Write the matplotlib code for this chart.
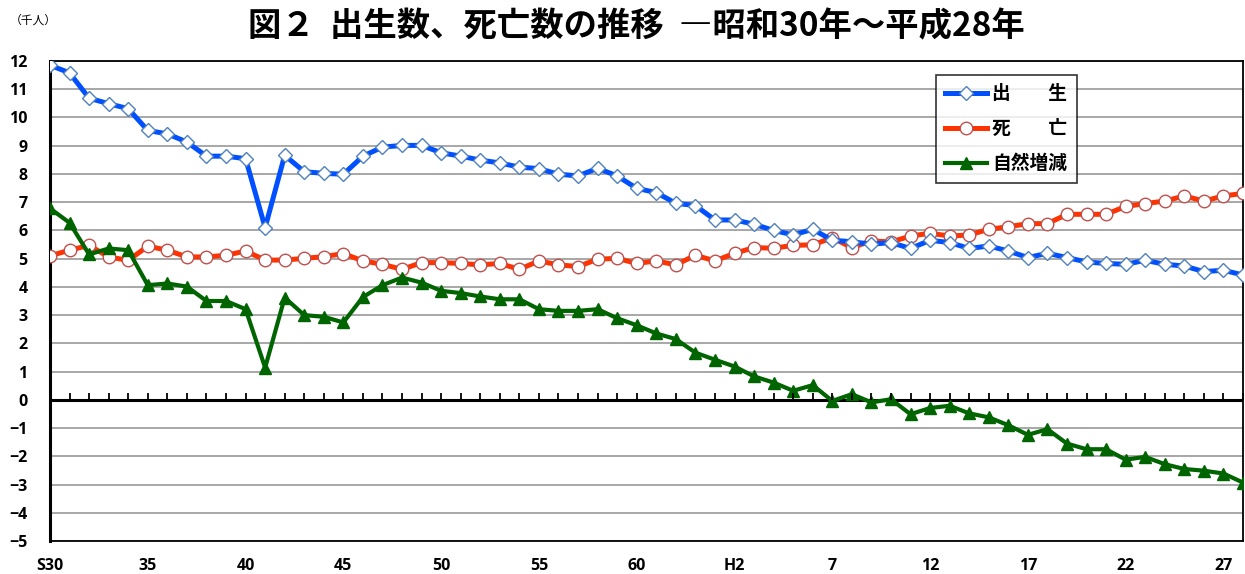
import numpy as np
import matplotlib
matplotlib.use('Agg')
import matplotlib.pyplot as plt

plt.rcParams['font.family'] = ['Noto Sans CJK JP', 'DejaVu Sans']

# 昭和30年(S30)～平成28年(H28), 単位:千人
years = list(range(62))
tick_pos = list(range(0, 62, 5))
tick_labels = ['S30', '35', '40', '45', '50', '55', '60', 'H2', '7', '12', '17', '22', '27']

births = [11.85, 11.58, 10.68, 10.49, 10.31, 9.54, 9.42, 9.13, 8.63, 8.63,
          8.54, 6.10, 8.66, 8.08, 8.02, 7.99, 8.63, 8.95, 9.01, 9.01,
          8.75, 8.63, 8.49, 8.39, 8.24, 8.19, 7.99, 7.93, 8.20, 7.93,
          7.49, 7.34, 6.96, 6.88, 6.37, 6.37, 6.22, 6.00, 5.84, 6.04,
          5.65, 5.60, 5.51, 5.57, 5.36, 5.65, 5.57, 5.36, 5.45, 5.27,
          5.04, 5.19, 5.04, 4.88, 4.83, 4.80, 4.94, 4.80, 4.74, 4.54,
          4.59, 4.42]
deaths = [5.10, 5.30, 5.47, 5.06, 4.94, 5.44, 5.30, 5.06, 5.06, 5.12,
          5.27, 4.95, 4.95, 5.01, 5.07, 5.18, 4.92, 4.80, 4.62, 4.86,
          4.86, 4.83, 4.78, 4.83, 4.62, 4.92, 4.78, 4.72, 4.98, 5.01,
          4.83, 4.92, 4.78, 5.12, 4.92, 5.19, 5.39, 5.37, 5.47, 5.49,
          5.74, 5.39, 5.63, 5.59, 5.80, 5.90, 5.80, 5.84, 6.04, 6.13,
          6.24, 6.24, 6.57, 6.57, 6.57, 6.85, 6.95, 7.04, 7.22, 7.04,
          7.22, 7.31]
natural = [6.78, 6.27, 5.15, 5.36, 5.30, 4.06, 4.12, 4.01, 3.50, 3.50,
           3.21, 1.14, 3.62, 3.00, 2.94, 2.74, 3.64, 4.06, 4.33, 4.15,
           3.86, 3.78, 3.66, 3.56, 3.56, 3.21, 3.15, 3.15, 3.21, 2.89,
           2.64, 2.35, 2.15, 1.67, 1.42, 1.18, 0.83, 0.61, 0.32, 0.52,
           -0.04, 0.20, -0.09, 0.02, -0.51, -0.29, -0.21, -0.48, -0.62, -0.90,
           -1.24, -1.04, -1.55, -1.75, -1.75, -2.12, -2.02, -2.28, -2.45, -2.51,
           -2.61, -2.93]

fig = plt.figure(figsize=(12.45, 5.74), dpi=100)
left, bottom, width, height = 50 / 1245, 1 - 541 / 574, 1193 / 1245, 480 / 574
ax = fig.add_axes([left, bottom, width, height])

ax.plot(years, births, color='#0050ff', lw=3.6, marker='D', ms=7.5,
        mfc='white', mec='#4f81bd', mew=1.0, label='出　　生', zorder=4)
ax.plot(years, deaths, color='#ff3300', lw=3.6, marker='o', ms=9,
        mfc='white', mec='#c0504d', mew=1.0, label='死　　亡', zorder=3)
ax.plot(years, natural, color='#006400', lw=3.0, marker='^', ms=8,
        mfc='#006400', mec='#006400', label='自然増減', zorder=5)

ax.set_xlim(0, 61)
ax.set_ylim(-5, 12)
ax.set_yticks(range(-5, 13))
ax.set_xticks(tick_pos)
ax.set_xticklabels(tick_labels)
ax.tick_params(axis='both', length=0, labelsize=11.5)
ax.tick_params(axis='y', pad=16)
ax.tick_params(axis='x', pad=12)
for lab in ax.get_xticklabels() + ax.get_yticklabels():
    lab.set_fontweight('bold')
    lab.set_family(['Open Sans', 'DejaVu Sans'])

ax.grid(axis='y', color='#a0a0a0', lw=1.3)
ax.set_axisbelow(True)
ax.axhline(0, color='black', lw=2.2, zorder=2)

for name, sp in ax.spines.items():
    sp.set_color('black')
    sp.set_linewidth(1.3)
ax.spines['left'].set_linewidth(2.2)

# year ticks on the zero line (thin overlay axes)
zero_y = bottom + height * 5 / 17
zax = fig.add_axes([left, zero_y, width, 0.001], facecolor='none')
zax.set_xlim(0, 61)
zax.set_xticks(years)
zax.set_yticks([])
zax.tick_params(axis='x', direction='in', length=5, width=1.3,
                color='black', labelbottom=False)
for sp in zax.spines.values():
    sp.set_visible(False)
zax.set_zorder(0)

leg = ax.legend(loc='upper left', bbox_to_anchor=(0.7427, 0.9708),
                prop={'weight': 'bold', 'size': 13.5}, frameon=True, fancybox=False,
                edgecolor='black', handlelength=2.2, labelspacing=0.85,
                borderpad=0.5, handletextpad=0.3, borderaxespad=0)
leg.get_frame().set_linewidth(1.2)

fig.text(0.511, 0.953, '図２  出生数、死亡数の推移  ―昭和30年～平成28年',
         ha='center', va='center', fontsize=24, fontweight='bold')
fig.text(0.008, 0.965, '（千人）', ha='left', va='center', fontsize=8.5)

fig.savefig('out.png', dpi=100)
